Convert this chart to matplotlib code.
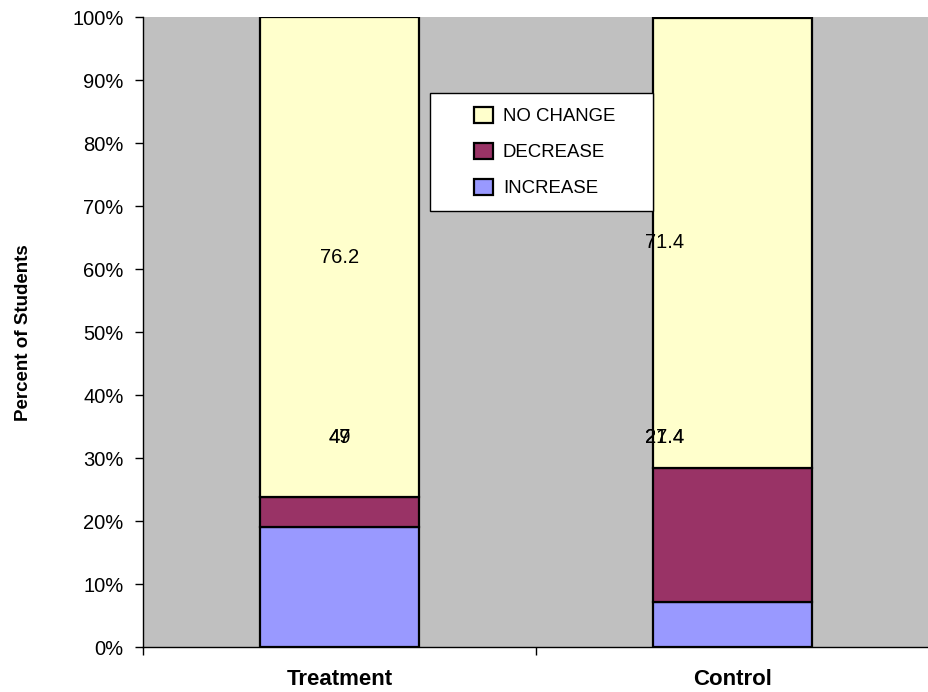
import matplotlib
matplotlib.use("Agg")
import matplotlib.pyplot as plt
from matplotlib.patches import Patch, Rectangle
import numpy as np

plt.rcParams['font.family'] = ['Liberation Sans', 'DejaVu Sans']

categories = ["Treatment", "Control"]
increase = [19.0, 7.1]
decrease = [4.8, 21.4]
no_change = [76.2, 71.4]
series_names = ["INCREASE", "DECREASE", "NO CHANGE"]
series_colors = ["#9999FF", "#993366", "#FFFFCC"]

# value labels as they appear on each bar
upper_labels = ["76.2", "71.4"]
lower_labels = [["49", "47"], ["27.4", "21.4"]]

fig = plt.figure(figsize=(9.29, 6.92), dpi=100)
ax = fig.add_axes([0.154, 0.065, 0.846, 0.910])
ax.set_facecolor("#C0C0C0")

x = np.arange(len(categories))
width = 0.405
bottom = np.zeros(len(categories))
for vals, name, col in zip([increase, decrease, no_change], series_names, series_colors):
    ax.bar(x, vals, width, bottom=bottom, color=col, edgecolor="black",
           linewidth=1.6, label=name, zorder=2)
    bottom = bottom + np.array(vals)

ax.set_xlim(-0.5, 1.47)
ax.set_ylim(0, 100)
ax.set_yticks(np.arange(0, 101, 10))
ax.set_yticklabels([f"{v}%" for v in range(0, 101, 10)], fontsize=14.5)
ax.set_xticks([-0.5, 0.5, 1.5])
ax.set_xticklabels([])
ax.set_xticks(x, minor=True)
ax.set_xticklabels(categories, minor=True, fontsize=16, fontweight="bold")
ax.tick_params(axis="x", which="minor", length=0, pad=16)
ax.tick_params(axis="x", which="major", length=6, width=1, direction="out")
ax.tick_params(axis="y", length=6, width=1, direction="out", pad=8)

for side in ["top", "right"]:
    ax.spines[side].set_visible(False)
ax.spines["left"].set_linewidth(1)
ax.spines["bottom"].set_linewidth(1)

ax.set_ylabel("Percent of Students", fontsize=13.5, fontweight="bold", labelpad=29)

# data labels
nc_mid = [increase[i] + decrease[i] + no_change[i] / 2 for i in range(2)]
label_x = [0.0, 0.827]
for i in range(2):
    ax.text(label_x[i], nc_mid[i], upper_labels[i], ha="center", va="center",
            fontsize=14.5, zorder=3)
    for s in lower_labels[i]:
        ax.text(label_x[i], 33.3, s, ha="center", va="center", fontsize=14.5, zorder=3)

# legend box
ax.add_patch(Rectangle((0.365, 0.692), 0.284, 0.187, transform=ax.transAxes,
                       facecolor="white", edgecolor="black", linewidth=1,
                       zorder=4, clip_on=False))
handles = [Patch(facecolor=c, edgecolor="black", linewidth=1.6, label=n)
           for n, c in zip(series_names[::-1], series_colors[::-1])]
leg = ax.legend(handles=handles, loc="center left", bbox_to_anchor=(0.421, 0.786),
                frameon=False, fontsize=13.4, handlelength=1.02, handleheight=0.97,
                handletextpad=0.54, labelspacing=0.93, borderpad=0, borderaxespad=0)
leg.set_zorder(5)

fig.savefig("out.png", dpi=100)
